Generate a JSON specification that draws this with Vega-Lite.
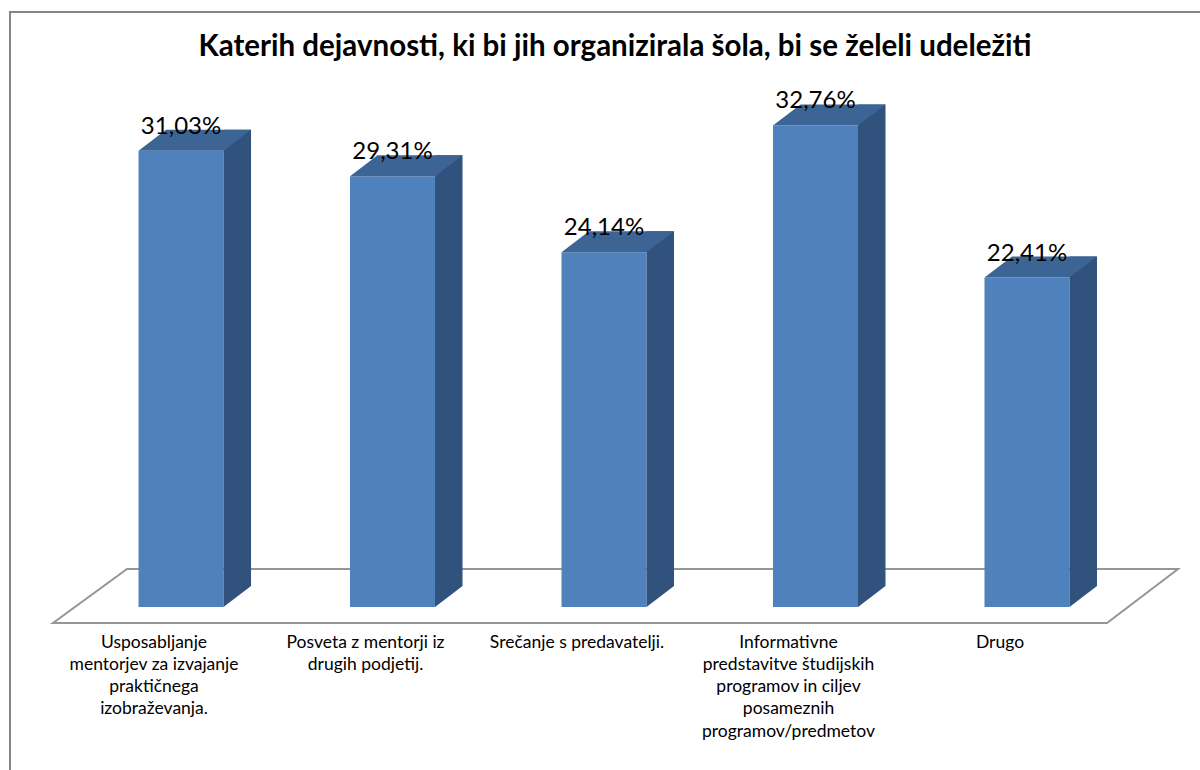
{
  "$schema": "https://vega.github.io/schema/vega-lite/v6.json",
  "width": 1200,
  "height": 770,
  "autosize": {"type": "none"},
  "padding": {"left": 10, "top": 12, "right": 0, "bottom": 0},
  "background": "white",
  "config": {
    "view": {"stroke": "#868686", "strokeWidth": 2},
    "locale": {"number": {"decimal": ",", "thousands": ".", "grouping": [3], "currency": ["", " €"]}}
  },
  "title": {
    "text": "Katerih dejavnosti, ki bi jih organizirala šola, bi se želeli udeležiti",
    "font": "Lato",
    "fontSize": 29.5,
    "fontWeight": "bold",
    "color": "black",
    "anchor": "middle",
    "frame": "group",
    "baseline": "alphabetic",
    "offset": -73,
    "dx": 5
  },
  "data": {
    "values": [
      {"c": "Usposabljanje\nmentorjev za izvajanje\npraktičnega\nizobraževanja.", "v": 0.3103},
      {"c": "Posveta z mentorji iz\ndrugih podjetij.", "v": 0.2931},
      {"c": "Srečanje s predavatelji.", "v": 0.2414},
      {"c": "Informativne\npredstavitve študijskih\nprogramov in ciljev\nposameznih\nprogramov/predmetov", "v": 0.3276},
      {"c": "Drugo", "v": 0.2241}
    ]
  },
  "encoding": {
    "x": {
      "field": "c",
      "type": "nominal",
      "sort": null,
      "scale": {
        "domain": [
          "Usposabljanje\nmentorjev za izvajanje\npraktičnega\nizobraževanja.",
          "Posveta z mentorji iz\ndrugih podjetij.",
          "Srečanje s predavatelji.",
          "Informativne\npredstavitve študijskih\nprogramov in ciljev\nposameznih\nprogramov/predmetov",
          "Drugo"
        ],
        "paddingInner": 0, "paddingOuter": 0.337, "align": 0.458
      },
      "axis": {
        "orient": "bottom",
        "offset": -175,
        "domain": false,
        "ticks": false,
        "grid": false,
        "title": null,
        "labelAngle": 0,
        "labelFont": "Lato",
        "labelFontSize": 17.5,
        "labelColor": "black",
        "labelPadding": 26,
        "labelLineHeight": 22.3,
        "labelLimit": 400,
        "labelOverlap": false,
        "labelOffset": -27,
        "labelBaseline": "top",
        "labelExpr": "split(datum.label, '\\n')"
      }
    }
  },
  "layer": [
    {
      "transform": [{"filter": "datum.c === 'Srečanje s predavatelji.'"}],
      "mark": {"type": "point", "shape": "M -477 -38 L 574 -38 L 503 16 L -551 16 Z", "size": 4, "filled": false, "stroke": "#969696", "strokeWidth": 2, "opacity": 1},
      "encoding": {"y": {"datum": 0, "type": "quantitative", "scale": {"domain": [-0.11905, 0.40476], "nice": false, "zero": false}, "axis": null}}
    },
    {
      "mark": {"type": "bar", "width": 85, "color": "#4F81BD"},
      "encoding": {
        "y": {"field": "v", "type": "quantitative"},
        "y2": {"datum": 0}
      }
    },
    {
      "mark": {"type": "bar", "width": 27.5, "xOffset": 56.25, "yOffset": -21, "y2Offset": -21, "color": "#32527E"},
      "encoding": {
        "y": {"field": "v", "type": "quantitative"},
        "y2": {"datum": 0}
      }
    },
    {
      "mark": {"type": "point", "shape": "M 42.5 0 L 42.5 -21 L 70 -21 Z", "size": 4, "filled": true, "color": "#32527E", "strokeWidth": 0, "opacity": 1},
      "encoding": {"y": {"datum": 0, "type": "quantitative"}}
    },
    {
      "mark": {"type": "point", "shape": "M -42.5 0 L 42.5 0 L 70 -21 L -15 -21 Z", "size": 4, "filled": true, "color": "#3C6494", "strokeWidth": 0, "opacity": 1},
      "encoding": {"y": {"field": "v", "type": "quantitative"}}
    },
    {
      "mark": {"type": "text", "font": "Lato", "fontSize": 24, "color": "black", "baseline": "alphabetic", "align": "center", "dy": -17},
      "encoding": {
        "y": {"field": "v", "type": "quantitative"},
        "text": {"field": "v", "type": "quantitative", "format": ".2%"}
      }
    }
  ]
}
